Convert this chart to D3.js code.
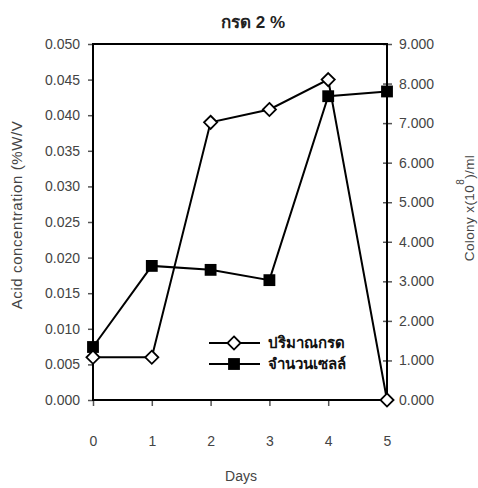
<!DOCTYPE html>
<html>
<head>
<meta charset="utf-8">
<script src="https://cdn.jsdelivr.net/npm/d3@7"></script>
<style>
  body { margin: 0; background: #fff; }
  svg { display: block; }
  text { font-family: "Liberation Sans", Arial, sans-serif; }
</style>
</head>
<body>
<div id="chart"></div>
<script>
// Daily readings
const days = [0, 1, 2, 3, 4, 5];
const acid = [0.006, 0.006, 0.039, 0.0408, 0.045, 0.000];      // %W/V
const colony = [1.34, 3.39, 3.29, 3.03, 7.68, 7.80];            // x10^8 /ml
const leftTicks = [0, 0.005, 0.01, 0.015, 0.02, 0.025, 0.03, 0.035, 0.04, 0.045, 0.05];
const rightTicks = [0, 1, 2, 3, 4, 5, 6, 7, 8, 9];
const seriesNames = ["ปริมาณกรด", "จำนวนเซลล์"];

const W = 478, H = 488;
const m = { left: 93, right: 91, top: 44, bottom: 88 };
const iw = W - m.left - m.right, ih = H - m.top - m.bottom;

const svg = d3.select("#chart").append("svg").attr("width", W).attr("height", H);
const g = svg.append("g").attr("transform", `translate(${m.left},${m.top})`);

const x = d3.scaleLinear().domain([0, 5]).range([0, iw]);
const yL = d3.scaleLinear().domain([0, 0.05]).range([ih, 0]);
const yR = d3.scaleLinear().domain([0, 9]).range([ih, 0]);

const tickColor = "#555";
const labelColor = "#444";
const fs = "14px";

// Left axis
const axL = g.append("g").call(d3.axisLeft(yL).tickValues(leftTicks).tickFormat(d3.format(".3f")).tickSize(5).tickPadding(8));
// Right axis (ticks cross the line)
const axR = g.append("g").attr("transform", `translate(${iw},0)`)
  .call(d3.axisRight(yR).tickValues(rightTicks).tickFormat(d3.format(",.3f")).tickSize(5).tickPadding(7));
axR.selectAll(".tick line").attr("x1", -4);
// Bottom axis
const axB = g.append("g").attr("transform", `translate(0,${ih})`)
  .call(d3.axisBottom(x).tickValues(days).tickFormat(d3.format("d")).tickSize(6).tickPadding(30));

[axL, axR, axB].forEach(a => {
  a.select(".domain").remove();
  a.selectAll(".tick line").attr("stroke", tickColor).attr("stroke-width", 1.5);
  a.selectAll(".tick text").attr("fill", labelColor).style("font-size", fs);
});

// Plot frame
g.append("rect").attr("width", iw).attr("height", ih)
  .attr("fill", "none").attr("stroke", "#000").attr("stroke-width", 2);

// Lines
const lineAcid = d3.line().x((d, i) => x(days[i])).y(d => yL(d));
const lineCol = d3.line().x((d, i) => x(days[i])).y(d => yR(d));

g.append("path").datum(acid).attr("d", lineAcid)
  .attr("fill", "none").attr("stroke", "#000").attr("stroke-width", 2);
g.append("path").datum(colony).attr("d", lineCol)
  .attr("fill", "none").attr("stroke", "#000").attr("stroke-width", 2);

// Markers
const diamond = d3.symbol().type(d3.symbolDiamond2).size(110);
const square = d3.symbol().type(d3.symbolSquare).size(140);

g.selectAll(".sq").data(colony).join("path")
  .attr("transform", (d, i) => `translate(${x(days[i])},${yR(d)})`)
  .attr("d", square).attr("fill", "#000");
g.selectAll(".dm").data(acid).join("path")
  .attr("transform", (d, i) => `translate(${x(days[i])},${yL(d)})`)
  .attr("d", diamond).attr("fill", "#fff").attr("stroke", "#000").attr("stroke-width", 1.8);

// Legend
const lg = g.append("g").attr("transform", `translate(${209 - m.left},${343 - m.top})`);
seriesNames.forEach((name, i) => {
  const row = lg.append("g").attr("transform", `translate(0,${i * 21})`);
  row.append("line").attr("x1", 0).attr("x2", 51).attr("stroke", "#000").attr("stroke-width", 2);
  row.append("path").attr("transform", "translate(25,0)")
    .attr("d", i === 0 ? diamond : square)
    .attr("fill", i === 0 ? "#fff" : "#000")
    .attr("stroke", i === 0 ? "#000" : "none").attr("stroke-width", 1.8);
  row.append("text").attr("x", 59).attr("y", 5).text(name)
    .style("font-size", "15px").style("font-weight", "bold").attr("fill", "#111");
});

// Title
svg.append("text").attr("x", 253).attr("y", 28).attr("text-anchor", "middle")
  .style("font-size", "17px").style("font-weight", "bold").attr("fill", "#222").text("กรด 2 %");

// Axis titles
svg.append("text").attr("x", 241).attr("y", 481).attr("text-anchor", "middle")
  .style("font-size", fs).attr("fill", labelColor).text("Days");

svg.append("text").attr("transform", `translate(22,215) rotate(-90)`)
  .attr("text-anchor", "middle").style("font-size", "15px").style("letter-spacing", "0.6px")
  .attr("fill", labelColor).text("Acid concentration (%W/V");

const rt = svg.append("text").attr("transform", `translate(474,208) rotate(-90)`)
  .attr("text-anchor", "middle").style("font-size", "13.5px").style("letter-spacing", "0.4px").attr("fill", labelColor);
rt.append("tspan").text("Colony x(10");
rt.append("tspan").attr("dy", -10).style("font-size", "10px").text("8");
rt.append("tspan").attr("dy", 10).text(")/ml");
</script>
</body>
</html>
